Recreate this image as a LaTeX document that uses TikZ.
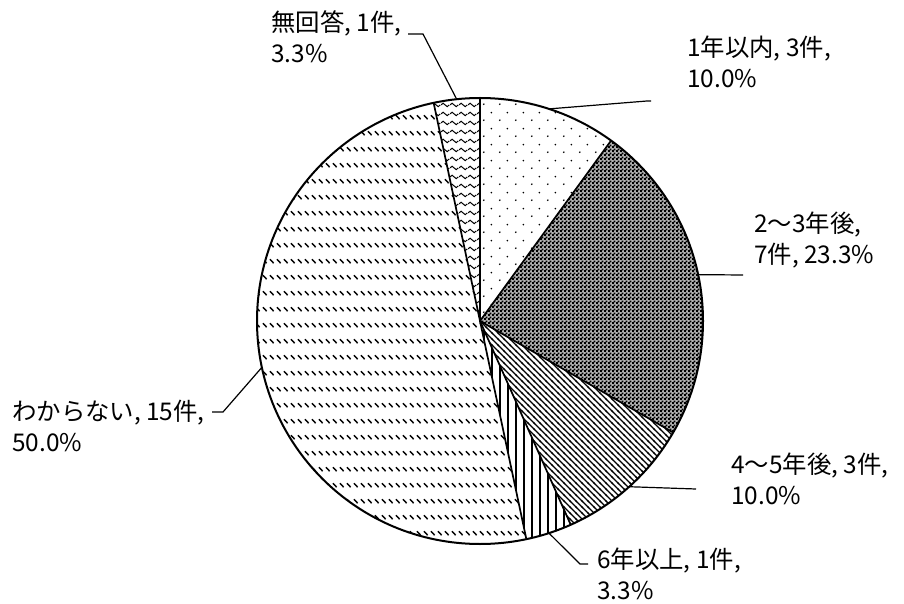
\documentclass[tikz,border=0pt]{standalone}
\usepackage{fontspec}
\setmainfont{Noto Sans CJK JP}
\usetikzlibrary{patterns}

% fill patterns of the slices
\pgfdeclarepatternformonly{sparsedots}{\pgfqpoint{0pt}{0pt}}{\pgfqpoint{16pt}{16pt}}{\pgfqpoint{16pt}{16pt}}{%
  \pgfpathcircle{\pgfqpoint{4pt}{4pt}}{1pt}%
  \pgfpathcircle{\pgfqpoint{12pt}{12pt}}{1pt}%
  \pgfusepath{fill}}
\pgfdeclarepatternformonly{checker}{\pgfqpoint{0pt}{0pt}}{\pgfqpoint{4pt}{4pt}}{\pgfqpoint{4pt}{4pt}}{%
  \pgfpathrectangle{\pgfqpoint{0pt}{0pt}}{\pgfqpoint{2.3pt}{2.3pt}}%
  \pgfpathrectangle{\pgfqpoint{2pt}{2pt}}{\pgfqpoint{2.3pt}{2.3pt}}%
  \pgfusepath{fill}}
\pgfdeclarepatternformonly{denselines}{\pgfqpoint{-1pt}{-1pt}}{\pgfqpoint{7pt}{7pt}}{\pgfqpoint{6pt}{6pt}}{%
  \pgfsetlinewidth{1.1pt}%
  \pgfpathmoveto{\pgfqpoint{-1pt}{7pt}}\pgfpathlineto{\pgfqpoint{7pt}{-1pt}}%
  \pgfusepath{stroke}}
\pgfdeclarepatternformonly{vlines}{\pgfqpoint{0pt}{-1pt}}{\pgfqpoint{8pt}{9pt}}{\pgfqpoint{8pt}{8pt}}{%
  \pgfsetlinewidth{1.1pt}%
  \pgfpathmoveto{\pgfqpoint{4pt}{-1pt}}\pgfpathlineto{\pgfqpoint{4pt}{9pt}}%
  \pgfusepath{stroke}}
\pgfdeclarepatternformonly{dashrows}{\pgfqpoint{0pt}{0pt}}{\pgfqpoint{6.5pt}{15.5pt}}{\pgfqpoint{6.5pt}{15.5pt}}{%
  \pgfsetlinewidth{1.5pt}%
  \pgfpathmoveto{\pgfqpoint{1pt}{10pt}}\pgfpathlineto{\pgfqpoint{5pt}{6pt}}%
  \pgfusepath{stroke}}
\pgfdeclarepatternformonly{waves}{\pgfqpoint{0pt}{0pt}}{\pgfqpoint{9pt}{9pt}}{\pgfqpoint{9pt}{9pt}}{%
  \pgfsetlinewidth{1.1pt}%
  \pgfpathmoveto{\pgfqpoint{0pt}{4.5pt}}%
  \pgfpathcurveto{\pgfqpoint{1.5pt}{7pt}}{\pgfqpoint{3pt}{7pt}}{\pgfqpoint{4.5pt}{4.5pt}}%
  \pgfpathcurveto{\pgfqpoint{6pt}{2pt}}{\pgfqpoint{7.5pt}{2pt}}{\pgfqpoint{9pt}{4.5pt}}%
  \pgfusepath{stroke}}

\begin{document}
\begin{tikzpicture}[x=1pt, y=1pt,
  edge/.style={draw=black, line width=1.7pt},
  leader/.style={draw=black, line width=1.2pt},
  lbl/.style={anchor=base west, align=left, inner sep=0pt, font=\fontsize{24.4}{31}\selectfont}]
\useasboundingbox (0,0) rectangle (904,603);
\coordinate (C) at (480,282);

% slices
\fill[pattern=sparsedots] (C) -- ++(90:223) arc[start angle=90, end angle=54, radius=223] -- cycle;
\fill[black!30] (C) -- ++(54:223) arc[start angle=54, end angle=-30, radius=223] -- cycle;
\fill[pattern=checker] (C) -- ++(54:223) arc[start angle=54, end angle=-30, radius=223] -- cycle;
\fill[pattern=denselines] (C) -- ++(-30:223) arc[start angle=-30, end angle=-66, radius=223] -- cycle;
\fill[pattern=vlines] (C) -- ++(-66:223) arc[start angle=-66, end angle=-78, radius=223] -- cycle;
\fill[pattern=dashrows] (C) -- ++(-78:223) arc[start angle=-78, end angle=-258, radius=223] -- cycle;
\fill[pattern=waves] (C) -- ++(102:223) arc[start angle=102, end angle=90, radius=223] -- cycle;

\draw[edge] (C) -- ++(90:223);
\draw[edge] (C) -- ++(54:223);
\draw[edge] (C) -- ++(-30:223);
\draw[edge] (C) -- ++(-66:223);
\draw[edge] (C) -- ++(-78:223);
\draw[edge] (C) -- ++(102:223);
\draw[line width=2pt] (C) circle[radius=223];

% labels (base is the second line)
\node[lbl] (nashi) at (271,540) {無回答, 1件,\\3.3\%};
\node[lbl] (y1) at (687,515) {1年以内, 3件,\\10.0\%};
\node[lbl] (y23) at (754,339) {2～3年後,\\7件, 23.3\%};
\node[lbl] (y45) at (731,99) {4～5年後, 3件,\\10.0\%};
\node[lbl] (y6) at (597,4) {6年以上, 1件,\\3.3\%};
\node[lbl] (wakaranai) at (12,152) {わからない, 15件,\\50.0\%};

% leader lines
\path (C) ++(96:223) coordinate (s-nashi);
\path (C) ++(72:223) coordinate (s-y1);
\path (C) ++(12:223) coordinate (s-y23);
\path (C) ++(-48:223) coordinate (s-y45);
\path (C) ++(-72:223) coordinate (s-y6);
\path (C) ++(192:223) coordinate (s-wak);
\coordinate (k-nashi) at (423,569);
\coordinate (e-nashi) at (408,569);
\coordinate (k-y1) at (647,502);
\coordinate (e-y1) at (651,502);
\coordinate (e-y23) at (743,328);
\coordinate (e-y45) at (696,114);
\coordinate (k-y6) at (580,39);
\coordinate (e-y6) at (588,39);
\coordinate (k-wak) at (223,191);
\coordinate (e-wak) at (212,191);

\draw[leader] (s-nashi) -- (k-nashi) -- (e-nashi);
\draw[leader] (s-y1) -- (k-y1) -- (e-y1);
\draw[leader] (s-y23) -- (e-y23);
\draw[leader] (s-y45) -- (e-y45);
\draw[leader] (s-y6) -- (k-y6) -- (e-y6);
\draw[leader] (s-wak) -- (k-wak) -- (e-wak);
\end{tikzpicture}
\end{document}
